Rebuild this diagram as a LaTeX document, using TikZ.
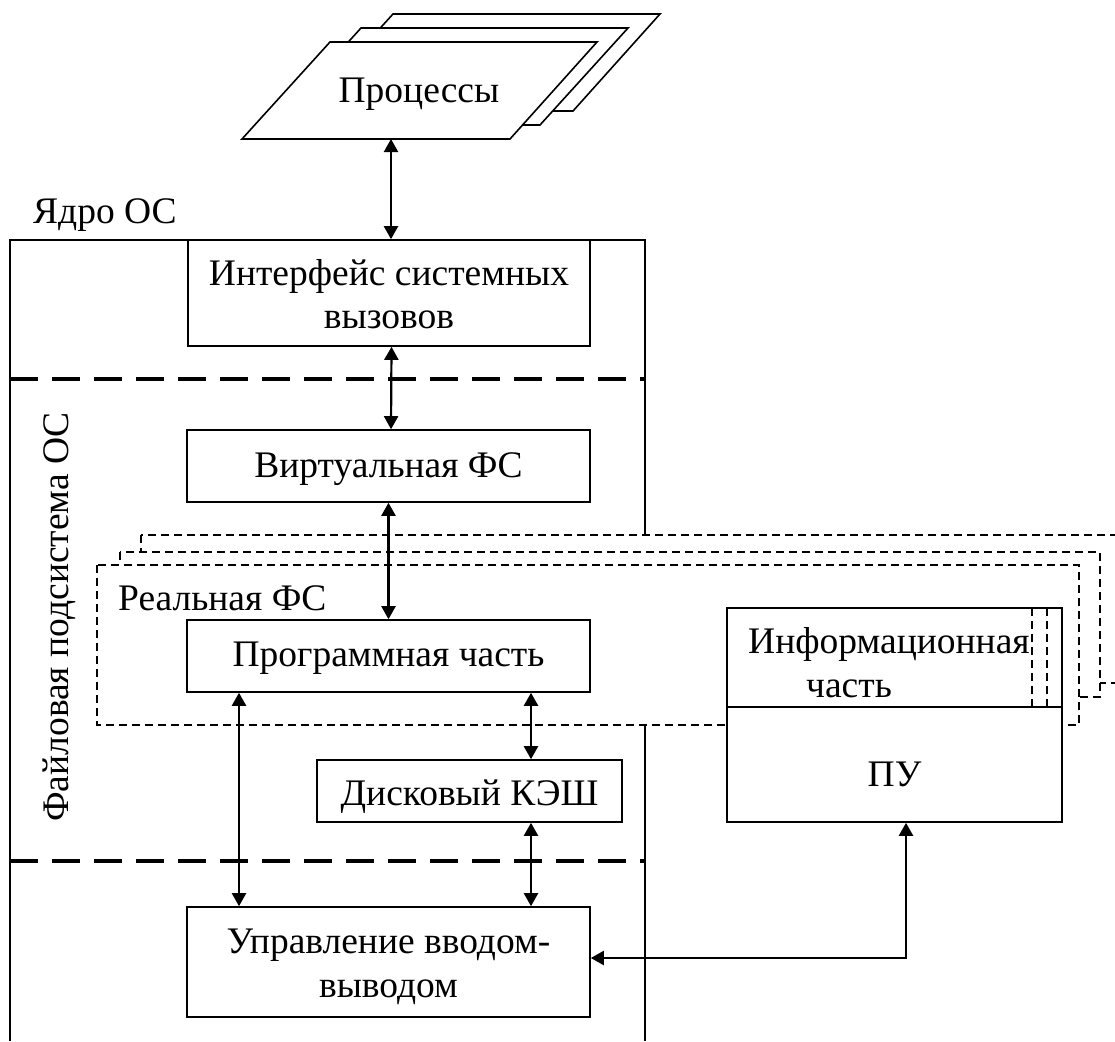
\documentclass[tikz,border=0pt]{standalone}
\usepackage{fontspec}
\setmainfont{Liberation Serif}
\usetikzlibrary{arrows.meta}
\begin{document}
\begin{tikzpicture}[x=1pt,y=-1pt,
  every node/.style={font=\fontsize{37.5}{45}\selectfont, inner sep=0pt},
  txt/.style={anchor=base},
  txtw/.style={anchor=base west},
  box/.style={draw, line width=1.6pt, fill=white},
  solid line/.style={line width=1.6pt},
  layer/.style={draw, fill=white, line width=1.4pt, dash pattern=on 8pt off 5pt},
  thin dash/.style={line width=1.4pt, dash pattern=on 8pt off 5pt},
  sep dash/.style={line width=4.5pt, dash pattern=on 28pt off 14pt},
  arr/.style={{Triangle[length=13pt,width=14pt]}-{Triangle[length=13pt,width=14pt]}, line width=2.2pt}
]
\useasboundingbox (0,0) rectangle (1115,1041);

% processes stack
\draw[solid line, fill=white] (393,14) -- (660,14) -- (573,111) -- (305,111) -- cycle;
\draw[solid line, fill=white] (361,28) -- (628,28) -- (540,125) -- (273,125) -- cycle;
\draw[solid line, fill=white] (330,42) -- (597,42) -- (510,139) -- (242,139) -- cycle;
\node[txt] (tproc) at (419,102) {Процессы};
\coordinate (pb) at (391,139);

% kernel frame
\coordinate (kTL) at (10,240);
\coordinate (kTR) at (645,240);
\draw[solid line] (10,1041) -- (kTL) -- (kTR) -- (645,1041);
\node[txtw] (tkern) at (33,223) {Ядро ОС};

% separators
\draw[sep dash] (10,379) -- (645,379);
\draw[sep dash] (10,861) -- (645,861);

% real FS layers
\draw[layer] (141,535) rectangle (1125,683);
\draw[layer] (120,552) rectangle (1100,697);
\draw[layer] (97,565) rectangle (1079,725);
\node[txtw] (treal) at (118,610) {Реальная ФС};

% file subsystem label
\node[rotate=90, anchor=base] (tfs) at (68,617) {Файловая подсистема ОС};

% boxes
\node[box, minimum width=402pt, minimum height=106pt] (iface) at (389,293) {};
\node[txt] (tiface1) at (389,285) {Интерфейс системных};
\node[txt] (tiface2) at (389,328) {вызовов};

\node[box, minimum width=403pt, minimum height=72pt] (virt) at (388.5,466) {};
\node[txt] (tvirt) at (388.5,477) {Виртуальная ФС};

\node[box, minimum width=403pt, minimum height=72pt] (prog) at (388.5,656) {};
\node[txt] (tprog) at (388.5,666) {Программная часть};

\node[box, minimum width=305pt, minimum height=62pt] (disk) at (469.5,791) {};
\node[txt] (tdisk) at (469.5,805) {Дисковый КЭШ};

\node[box, minimum width=403pt, minimum height=110pt] (io) at (388.5,962) {};
\node[txt] (tio1) at (388.5,953) {Управление вводом-};
\node[txt] (tio2) at (388.5,997) {выводом};

\node[box, minimum width=335pt, minimum height=99pt] (info) at (894.5,657.5) {};
\node[box, minimum width=335pt, minimum height=115pt] (pu) at (894.5,764.5) {};
\draw[thin dash] (1032,608) -- (1032,707);
\draw[thin dash] (1047,608) -- (1047,707);
\node[txtw] (tinfo1) at (748,653) {Информационная};
\node[txtw] (tinfo2) at (806,697) {часть};
\node[txt] (tpu) at (894.5,786) {ПУ};

% connectors
\coordinate (xl) at (239,0);
\coordinate (xr) at (531,0);
\coordinate (bend) at (906,958);
\draw[arr] (pb) -- (pb |- iface.north);
\draw[arr] ([xshift=2.5pt]iface.south) -- ([xshift=2.5pt]virt.north);
\draw[arr] (virt.south) -- (prog.north);
\draw[arr] (prog.south -| xl) -- (io.north -| xl);
\draw[arr] (prog.south -| xr) -- (disk.north -| xr);
\draw[arr] (disk.south -| xr) -- (io.north -| xr);
\draw[arr] (bend -| io.east) -- (bend) -- (bend |- pu.south);
\end{tikzpicture}
\end{document}
